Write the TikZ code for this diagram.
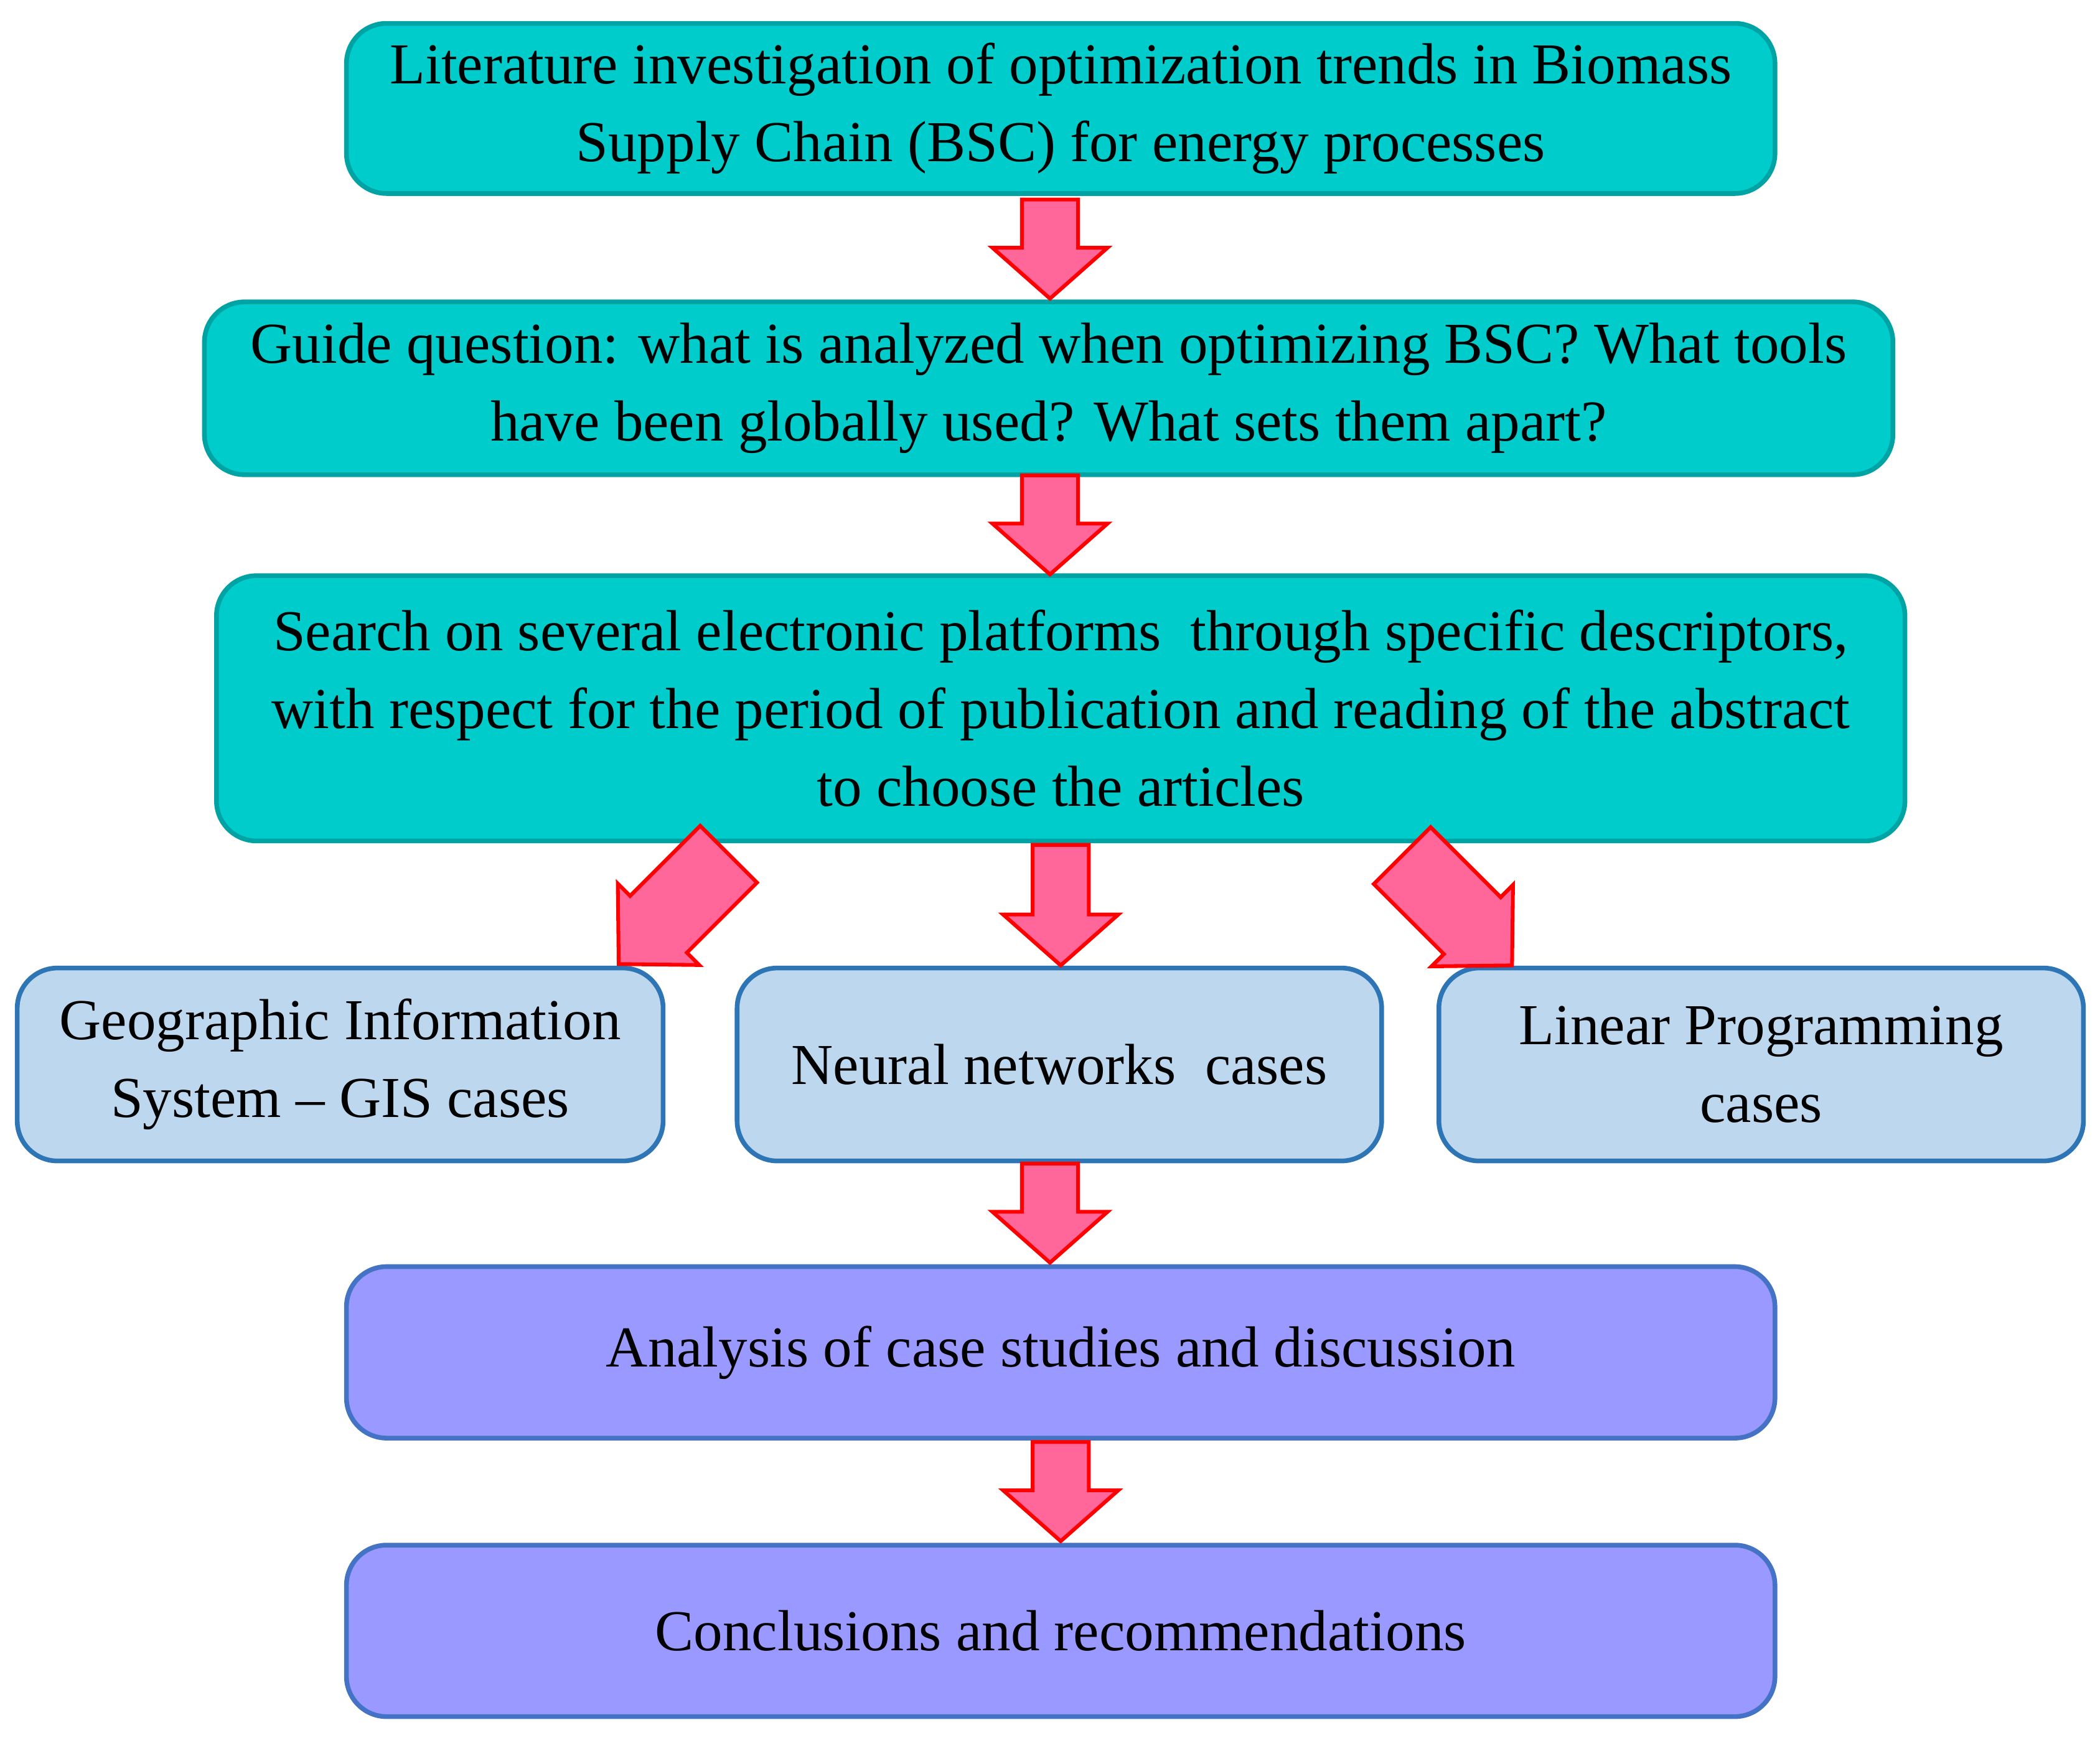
\documentclass[tikz,border=0pt]{standalone}
\usepackage{fontspec}
\setmainfont{Liberation Serif}
\definecolor{tealfill}{HTML}{00CCCC}
\definecolor{tealdraw}{HTML}{00A3A3}
\definecolor{bluefill}{HTML}{BDD7EE}
\definecolor{bluedraw}{HTML}{2E75B6}
\definecolor{violetfill}{HTML}{9999FF}
\definecolor{violetdraw}{HTML}{4472C4}
\definecolor{pinkfill}{HTML}{FF6699}
\tikzset{%
    step box/.style={
      rectangle,
      rounded corners=0.3cm,
      line width=1pt,
      align=center,
      font=\fontsize{12.3pt}{16.5pt}\selectfont,
      inner sep=0pt
    },
    main step/.style={step box, fill=tealfill, draw=tealdraw},
    case step/.style={step box, fill=bluefill, draw=bluedraw},
    end step/.style={step box, fill=violetfill, draw=violetdraw},
    flow arrow/.style={
      draw=red,
      fill=pinkfill,
      line width=0.8pt
    }
  }
% block arrow: centre, rotation, half length, half shaft, half head, head length
\newcommand{\blockarrow}[6]{%
  \draw [flow arrow, shift={#1}, rotate=#2]
    (-#4,-#3) -- (#4,-#3) -- (#4,#3-#6) -- (#5,#3-#6) -- (0,#3)
    -- (-#5,#3-#6) -- (-#4,#3-#6) -- cycle;}
\begin{document}
\begin{tikzpicture}[x=0.01cm, y=-0.01cm]
    \useasboundingbox (0,0) rectangle (1568,1298);

    \node [main step, minimum width=10.66cm, minimum height=1.27cm] (lit) at (792,81)
      {Literature investigation of optimization trends in Biomass\\Supply Chain (BSC) for energy processes};
    \node [main step, minimum width=12.6cm, minimum height=1.29cm] (guide) at (783,290)
      {Guide question: what is analyzed when optimizing BSC? What tools\\have been globally used? What sets them apart?};
    \node [main step, minimum width=12.6cm, minimum height=1.98cm] (search) at (792,529)
      {Search on several electronic platforms\ \ through specific descriptors,\\with respect\ for the period\ of publication and reading of the abstract\\to choose the articles};

    \node [case step, minimum width=4.82cm, minimum height=1.44cm] (gis) at (254,795)
      {Geographic Information\\System -- GIS cases};
    \node [case step, minimum width=4.81cm, minimum height=1.44cm] (neural) at (791,795)
      {Neural networks\ \ cases};
    \node [case step, minimum width=4.81cm, minimum height=1.44cm] (linear) at (1315,795)
      {Linear Programming\\cases};

    \node [end step, minimum width=10.66cm, minimum height=1.28cm] (analysis) at (792,1010)
      {Analysis of case studies and discussion};
    \node [end step, minimum width=10.66cm, minimum height=1.28cm] (concl) at (792,1218)
      {Conclusions and recommendations};

    % block arrows between the steps
    \blockarrow{(784,186)}{0}{37}{21}{43}{38}
    \blockarrow{(784,392)}{0}{37}{21}{43}{38}
    \blockarrow{(503,679)}{-45}{58}{30}{43}{42}
    \blockarrow{(792,676)}{0}{45}{21}{43}{38}
    \blockarrow{(1088,680)}{45}{58}{30}{43}{42}
    \blockarrow{(784,906)}{0}{37}{21}{43}{38}
    \blockarrow{(792,1114)}{0}{37}{21}{43}{38}
\end{tikzpicture}
\end{document}
